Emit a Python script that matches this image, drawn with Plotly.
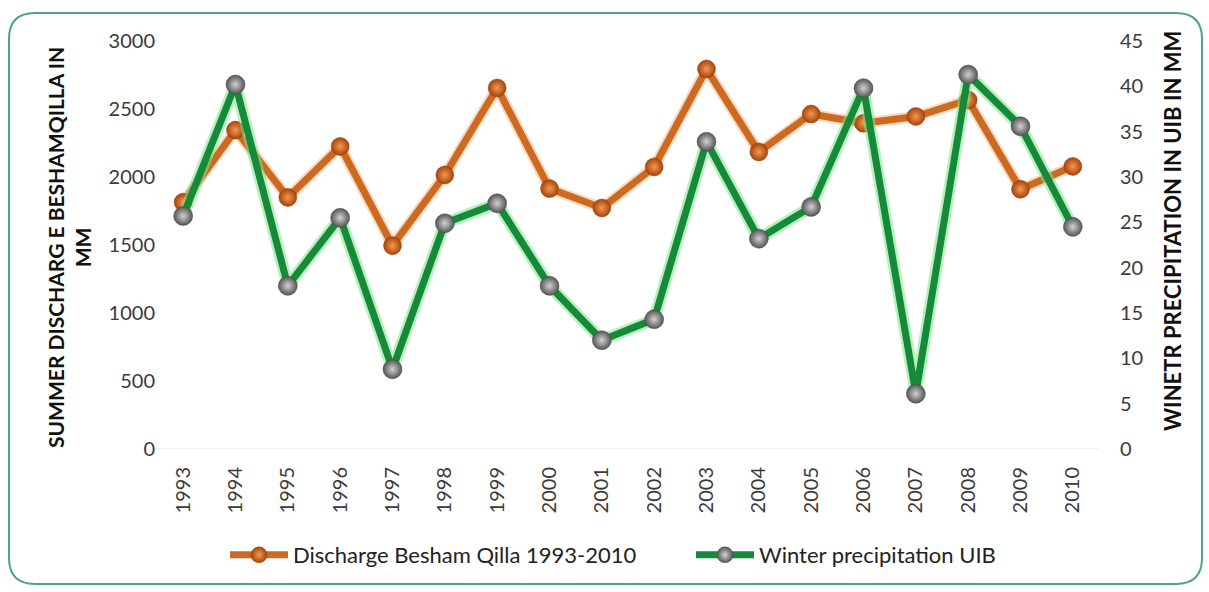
import plotly.graph_objects as go

# Annual series, 1993-2010
years = list(range(1993, 2011))
discharge = [1815, 2345, 1850, 2225, 1495, 2015, 2655, 1915, 1772, 2074,
             2794, 2184, 2463, 2395, 2445, 2566, 1910, 2078]
winter_precip = [25.7, 40.2, 18.0, 25.5, 8.8, 24.9, 27.1, 18.0, 12.0, 14.3,
                 33.9, 23.2, 26.7, 39.8, 6.1, 41.3, 35.6, 24.5]

left_ticks = [0, 500, 1000, 1500, 2000, 2500, 3000]
right_ticks = [0, 5, 10, 15, 20, 25, 30, 35, 40, 45]

name_discharge = "Discharge Besham Qilla 1993-2010"
name_precip = "Winter precipitation UIB"
left_title = "SUMMER DISCHARG E BESHAMQILLA IN<br>MM"
right_title = "WINETR PRECIPITATION IN UIB IN MM"

FONT = "Lato"
W, H = 1209, 592
L, R, T, B = 157, 110, 41, 143

fig = go.Figure()

# discharge: soft halo under the orange line
fig.add_trace(go.Scatter(
    x=years, y=discharge, mode="lines", yaxis="y",
    line=dict(color="rgba(245,170,110,0.45)", width=11),
    hoverinfo="skip", showlegend=False))
fig.add_trace(go.Scatter(
    x=years, y=discharge, mode="lines+markers", name=name_discharge, yaxis="y",
    line=dict(color="#CC6A22", width=7),
    marker=dict(size=18, color="#A8430B",
                gradient=dict(type="radial", color="#F29A50"),
                line=dict(color="#9A3E0A", width=0.5))))

# precipitation: light green glow under the dark green line
fig.add_trace(go.Scatter(
    x=years, y=winter_precip, mode="lines", yaxis="y2",
    line=dict(color="rgba(120,230,130,0.55)", width=12),
    hoverinfo="skip", showlegend=False))
fig.add_trace(go.Scatter(
    x=years, y=winter_precip, mode="lines+markers", name=name_precip, yaxis="y2",
    line=dict(color="#17893A", width=7),
    marker=dict(size=19, color="#555555",
                gradient=dict(type="radial", color="#D2D2D2"),
                line=dict(color="#4A4A4A", width=0.5))))

tick_font = dict(family=FONT, size=20, color="#3A3A3A")

fig.update_layout(
    width=W, height=H,
    margin=dict(l=L, r=R, t=T, b=B),
    paper_bgcolor="white", plot_bgcolor="white",
    font=dict(family=FONT),
    xaxis=dict(
        range=[1992.5, 2010.5], tickmode="array", tickvals=years,
        ticktext=[str(y) for y in years], tickangle=-90, tickfont=tick_font,
        showgrid=False, zeroline=False, showline=False, ticks="",
        ticklabelstandoff=13),
    yaxis=dict(
        range=[0, 3000], tickmode="array", tickvals=left_ticks,
        tickfont=tick_font, showgrid=False, zeroline=False, showline=False,
        ticks="", ticklabelstandoff=1),
    yaxis2=dict(
        range=[0, 45], tickmode="array", tickvals=right_ticks,
        tickfont=tick_font, overlaying="y", side="right",
        showgrid=False, zeroline=False, showline=False, ticks="",
        ticklabelstandoff=20),
    legend=dict(
        orientation="h", x=0.5 + 63 / 942, xanchor="center",
        y=(449 - 555) / 408, yanchor="middle",
        font=dict(family=FONT, size=22, color="#222222"),
        itemwidth=58, entrywidth=393, bgcolor="rgba(0,0,0,0)"),
    showlegend=True,
)

# faint baseline along zero
fig.add_shape(type="line", xref="paper", yref="y", x0=0, x1=1, y0=0, y1=0,
              line=dict(color="#E4E4E4", width=1), layer="below")

# axis titles
fig.add_annotation(
    text=left_title, textangle=-90, xref="paper", yref="paper",
    x=(69 - L) / (W - L - R), y=(449 - 248) / (H - T - B),
    xanchor="center", yanchor="middle", showarrow=False, align="center",
    font=dict(family=FONT, size=21, color="#111111", weight="bold"))
fig.add_annotation(
    text=right_title, textangle=-90, xref="paper", yref="paper",
    x=(1172 - L) / (W - L - R), y=(449 - 231) / (H - T - B),
    xanchor="center", yanchor="middle", showarrow=False,
    font=dict(family=FONT, size=22, color="#111111", weight="bold"))

# rounded frame around the whole chart
x0, y0, x1, y1, r = 9, 13, 1202, 584, 26
def px(x):
    return (x - L) / (W - L - R)
def py(y):
    return (H - B - y) / (H - T - B)
path = (f"M {px(x0 + r)},{py(y0)} L {px(x1 - r)},{py(y0)} "
        f"Q {px(x1)},{py(y0)} {px(x1)},{py(y0 + r)} "
        f"L {px(x1)},{py(y1 - r)} Q {px(x1)},{py(y1)} {px(x1 - r)},{py(y1)} "
        f"L {px(x0 + r)},{py(y1)} Q {px(x0)},{py(y1)} {px(x0)},{py(y1 - r)} "
        f"L {px(x0)},{py(y0 + r)} Q {px(x0)},{py(y0)} {px(x0 + r)},{py(y0)} Z")
fig.add_shape(type="path", path=path, xref="paper", yref="paper",
              line=dict(color="#4FA57C", width=2), fillcolor="rgba(0,0,0,0)",
              layer="below")

fig.write_html("out.html")
